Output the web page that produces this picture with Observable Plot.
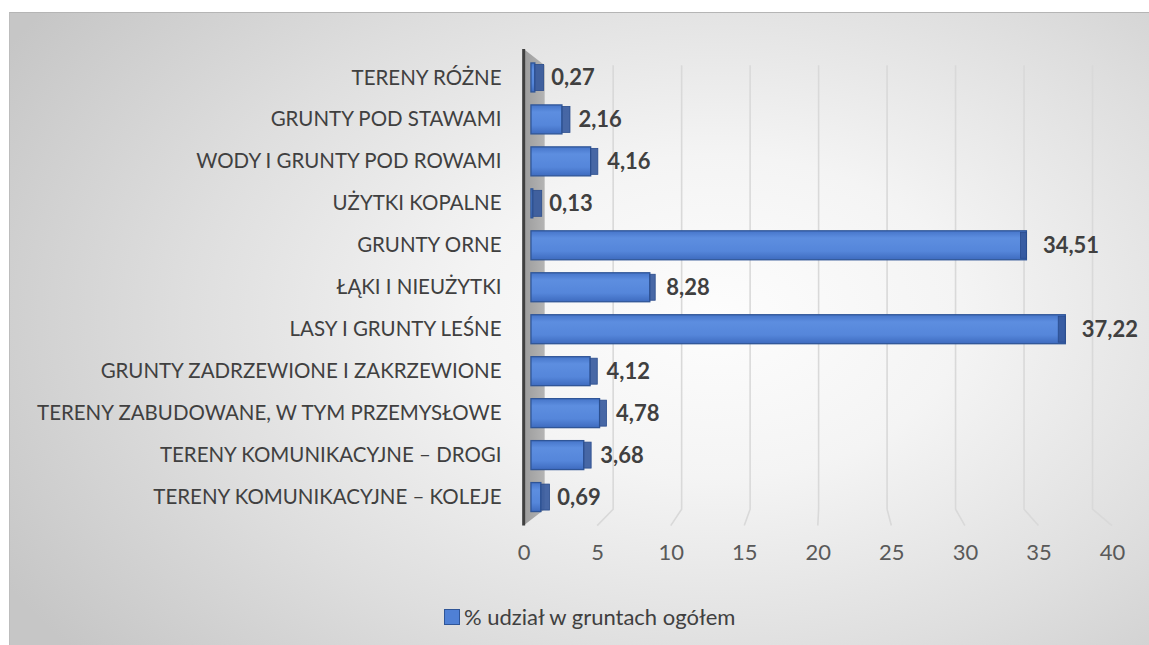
<!DOCTYPE html>
<html><head><meta charset="utf-8">
<script src="https://cdn.jsdelivr.net/npm/d3@7"></script>
<script src="https://cdn.jsdelivr.net/npm/@observablehq/plot@0.6"></script>
<style>
body{margin:0;background:#fff;}
#chart{position:absolute;left:9px;top:12px;width:1140px;height:633px;overflow:hidden;
background: radial-gradient(ellipse 72% 85% at 62% 48%, #fdfdfd 0%, #f4f4f4 30%, #dedede 65%, #c6c6c6 100%);
border-top:1px solid #b5b5b5;border-left:1px solid #bdbdbd;box-sizing:border-box}
#chart svg{position:absolute;left:0;top:0;overflow:visible}
#legend{position:absolute;left:434px;top:590px;font:22px Lato, sans-serif;color:#404040;display:flex;align-items:center;white-space:nowrap}
#legend .sw{width:14px;height:14px;background:#4f80d5;border:1px solid #2f5597;margin-right:4px}
</style></head><body><div id="chart"><div id="legend"><span class="sw"></span><span id="ltxt"></span></div></div>
<script>
const categories = [
  "TERENY RÓŻNE",
  "GRUNTY POD STAWAMI",
  "WODY I GRUNTY POD ROWAMI",
  "UŻYTKI KOPALNE",
  "GRUNTY ORNE",
  "ŁĄKI I NIEUŻYTKI",
  "LASY I GRUNTY LEŚNE",
  "GRUNTY ZADRZEWIONE I ZAKRZEWIONE",
  "TERENY ZABUDOWANE, W TYM PRZEMYSŁOWE",
  "TERENY KOMUNIKACYJNE – DROGI",
  "TERENY KOMUNIKACYJNE – KOLEJE"
];
const values = [0.27, 2.16, 4.16, 0.13, 34.51, 8.28, 37.22, 4.12, 4.78, 3.68, 0.69];
const xTicks = [0, 5, 10, 15, 20, 25, 30, 35, 40];
const seriesName = "% udział w gruntach ogółem";

const rows = categories.map((c, i) => ({category: c, value: values[i]}));
const fmt = v => v.toFixed(2).replace(".", ",");

// 3-D perspective (Excel-style): vanishing value, depth scale of front / back planes
const VX = 20.78, SF = 1.0244, SB = 0.954, CAP = 0.03;
const frontX = v => VX + (v - VX) * SF;

const NS = "http://www.w3.org/2000/svg";
function el(tag, attrs) {
  const e = document.createElementNS(NS, tag);
  for (const k in attrs) e.setAttribute(k, attrs[k]);
  return e;
}
function decor(index, scales, vals, dims) {
  const x = scales.x;
  const {height, marginTop, marginBottom} = dims;
  const top = marginTop + 2, bottom = height - marginBottom - 2;
  const vx = x(VX), vy = (marginTop + height - marginBottom) / 2;
  const P = (px, py, s) => [vx + (px - vx) * s, vy + (py - vy) * s];
  const g = el("g", {});
  const defs = el("defs", {});
  const grad = el("linearGradient", {id: "barGrad", x1: 0, y1: 0, x2: 0, y2: 1});
  [["0%", "#4675c9"], ["25%", "#5d8ee0"], ["70%", "#5586da"], ["100%", "#3e6bbf"]].forEach(([o, c]) =>
    grad.appendChild(el("stop", {offset: o, "stop-color": c})));
  defs.appendChild(grad);
  const sgrad = el("linearGradient", {id: "stripGrad", x1: 0, y1: 0, x2: 1, y2: 0});
  [["0%", "#9c9c9c"], ["100%", "#b4b4b4"]].forEach(([o, c]) =>
    sgrad.appendChild(el("stop", {offset: o, "stop-color": c})));
  defs.appendChild(sgrad);
  g.appendChild(defs);
  const x0 = x(0);
  const pts = [P(x0, top, SF), P(x0, top, SB), P(x0, bottom, SB), P(x0, bottom, SF)];
  g.appendChild(el("polygon", {points: pts.map(p => p.join(",")).join(" "), fill: "url(#stripGrad)"}));
  for (const t of xTicks) {
    if (t === 0) continue;
    const a = P(x(t), top, SB), b = P(x(t), bottom, SB), c = P(x(t), bottom, SF);
    g.appendChild(el("polyline", {points: [a, b, c].map(p => p.join(",")).join(" "), fill: "none", stroke: "#d9d9d9", "stroke-width": 1.6}));
  }
  const a = P(x0, top, SF), b = P(x0, bottom, SF);
  g.appendChild(el("line", {x1: a[0], y1: a[1], x2: b[0], y2: b[1], stroke: "#404040", "stroke-width": 3}));
  return g;
}

const chart = Plot.plot({
  width: 1140,
  height: 580,
  marginLeft: 521.4,
  marginRight: 43.8,
  marginTop: 39.65,
  marginBottom: 70.65,
  style: {background: "transparent", fontFamily: "Lato, sans-serif", overflow: "visible"},
  x: {domain: [0, 40], axis: null},
  y: {domain: categories, paddingInner: 0.3, paddingOuter: 0.15, axis: null},
  marks: [
    decor,
    Plot.barX(rows, {x: "value", y: "category", fill: "url(#barGrad)", stroke: "#2f5597", strokeWidth: 1.3}),
    Plot.barX(rows, {x1: "value", x2: d => d.value + CAP * (VX - d.value), y: "category", fill: "#34589c", fillOpacity: 0.9, stroke: "#2a4c8c", strokeWidth: 0.8, insetTop: 1.5, insetBottom: 1.5}),
    Plot.text(rows, {x: "value", y: "category", text: d => fmt(d.value), dx: 16, textAnchor: "start", fontWeight: "bold", fontSize: 22, fill: "#404040"}),
    Plot.text(rows, {y: "category", text: "category", frameAnchor: "left", dx: -30, textAnchor: "end", fontSize: 20.5, fill: "#404040"}),
    Plot.text(xTicks, {x: frontX, text: d => String(d), frameAnchor: "bottom", dy: 38, fontSize: 22, fill: "#595959"})
  ]
});
document.getElementById("chart").prepend(chart);
document.getElementById("ltxt").textContent = seriesName;
</script>
</body></html>
